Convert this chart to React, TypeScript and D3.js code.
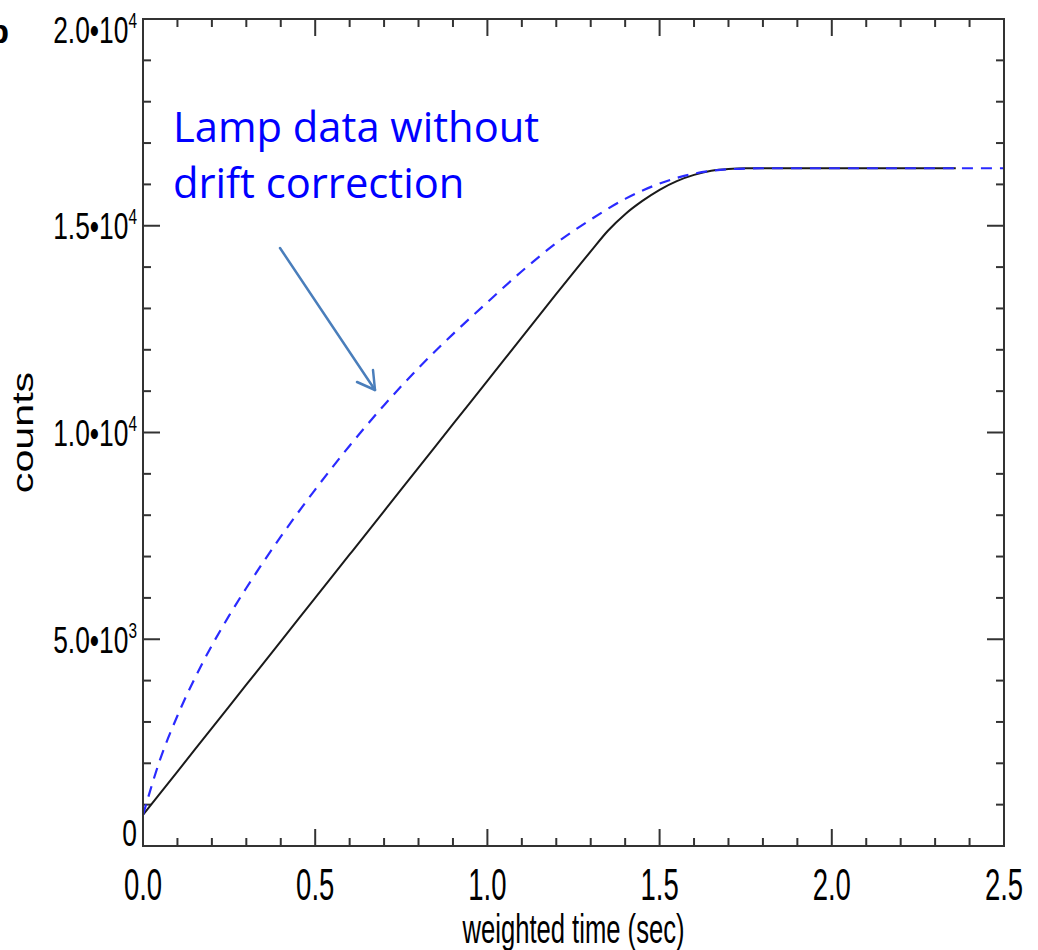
import React from "react";
import * as d3 from "d3";

// ---- data ----
const blackTime = [0, 0.1, 0.2, 0.3, 0.4, 0.5, 0.6, 0.7, 0.8, 0.9, 1.0, 1.1, 1.2, 1.3, 1.35, 1.4, 1.45, 1.5, 1.55, 1.6, 1.65, 1.7, 1.75, 1.8, 2.0, 2.2, 2.36];
const blackCounts = [750, 1800, 2850, 3900, 4950, 6000, 7050, 8100, 9150, 10200, 11250, 12300, 13350, 14380, 14880, 15280, 15600, 15870, 16080, 16230, 16330, 16375, 16390, 16390, 16390, 16390, 16390];

const blueTime = [0, 0.05, 0.1, 0.15, 0.2, 0.25, 0.3, 0.4, 0.5, 0.6, 0.7, 0.8, 0.9, 1.0, 1.1, 1.2, 1.3, 1.4, 1.5, 1.6, 1.7, 1.8, 2.0, 2.2, 2.5];
const blueCounts = [750, 2100, 3150, 4050, 4850, 5570, 6240, 7480, 8620, 9680, 10660, 11560, 12380, 13150, 13900, 14580, 15150, 15650, 16020, 16260, 16365, 16390, 16390, 16390, 16390];

const xMajor = [0, 0.5, 1.0, 1.5, 2.0, 2.5];
const xLabels = ["0.0", "0.5", "1.0", "1.5", "2.0", "2.5"];
const yMajor = [0, 5000, 10000, 15000, 20000];
const yMantissa = ["0", "5.0", "1.0", "1.5", "2.0"];
const yExponent = ["", "3", "4", "4", "4"];

const xTitle = "weighted time (sec)";
const yTitle = "counts";
const noteLines = ["Lamp data without", "drift correction"];

export default function App() {
  const L = 143, R = 1004, T = 19, B = 846;
  const x = d3.scaleLinear().domain([0, 2.5]).range([L, R]);
  const y = d3.scaleLinear().domain([0, 20000]).range([B, T]);

  const xMinor = d3.range(0, 2.5001, 0.1).filter((v) => Math.abs(v * 2 - Math.round(v * 2)) > 1e-6);
  const yMinor = d3.range(0, 20001, 1000).filter((v) => v % 5000 !== 0);

  const line = d3.line<number>().curve(d3.curveMonotoneX);
  const blackPath = line(blackTime.map((t, i) => [x(t), y(blackCounts[i])]) as any);
  const bluePath = line(blueTime.map((t, i) => [x(t), y(blueCounts[i])]) as any);

  const majLen = 17, minLen = 8;
  const axisColor = "#333";
  const tickFont = "'Liberation Sans', Arial, sans-serif";

  return (
    <svg width={1038} height={950} style={{ position: "absolute", left: 0, top: 0, background: "#fff" }}>
      <rect x={0} y={0} width={1038} height={950} fill="#fff" />
      {/* partial panel label */}
      <text x={9} y={43} textAnchor="end" fontFamily={tickFont} fontWeight="bold" fontSize={34} fill="#000">b</text>

      {/* ticks */}
      <g stroke={axisColor} strokeWidth={2}>
        {xMajor.map((v, i) => (
          <g key={"xm" + i}>
            <line x1={x(v)} x2={x(v)} y1={B} y2={B - majLen} />
            <line x1={x(v)} x2={x(v)} y1={T} y2={T + majLen} />
          </g>
        ))}
        {xMinor.map((v, i) => (
          <g key={"xn" + i}>
            <line x1={x(v)} x2={x(v)} y1={B} y2={B - minLen} />
            <line x1={x(v)} x2={x(v)} y1={T} y2={T + minLen} />
          </g>
        ))}
        {yMajor.map((v, i) => (
          <g key={"ym" + i}>
            <line x1={L} x2={L + majLen} y1={y(v)} y2={y(v)} />
            <line x1={R} x2={R - majLen} y1={y(v)} y2={y(v)} />
          </g>
        ))}
        {yMinor.map((v, i) => (
          <g key={"yn" + i}>
            <line x1={L} x2={L + minLen} y1={y(v)} y2={y(v)} />
            <line x1={R} x2={R - minLen} y1={y(v)} y2={y(v)} />
          </g>
        ))}
      </g>

      {/* curves */}
      <path d={blackPath || ""} fill="none" stroke="#1a1a1a" strokeWidth={2} />
      <path d={bluePath || ""} fill="none" stroke="#2a2aff" strokeWidth={2.2} strokeDasharray="11,8" />

      {/* frame */}
      <rect x={L} y={T} width={R - L} height={B - T} fill="none" stroke={axisColor} strokeWidth={2} />

      {/* x tick labels */}
      {xMajor.map((v, i) => (
        <text key={"xl" + i} transform={`translate(${x(v)},900) scale(0.615,1)`} textAnchor="middle"
          fontFamily={tickFont} fontSize={44.7} fill="#000">{xLabels[i]}</text>
      ))}
      {/* y tick labels */}
      {yMajor.map((v, i) => {
        const cy = Math.max(29, Math.min(832, y(v)));
        const base = cy + 13.5;
        const right = 137;
        return (
          <g key={"yl" + i} transform={`translate(${right},${base}) scale(0.7,1)`}>
            <text x={0} y={0} textAnchor="end" fontFamily={tickFont} fontSize={37.7} fill="#000">
              {yMantissa[i]}
              {yExponent[i] ? <tspan>•10</tspan> : null}
              {yExponent[i] ? <tspan fontSize={22} dy={-15}>{yExponent[i]}</tspan> : null}
            </text>
          </g>
        );
      })}

      {/* axis titles */}
      <text transform={`translate(573.5,943) scale(0.625,1)`} textAnchor="middle" fontFamily={tickFont}
        fontSize={41} fill="#000">{xTitle}</text>
      <text transform={`translate(33,432.5) rotate(-90) scale(1.42,1)`} textAnchor="middle" fontFamily={tickFont}
        fontSize={29} fill="#000">{yTitle}</text>

      {/* annotation */}
      {noteLines.map((s, i) => (
        <text key={"n" + i} x={173} y={142 + i * 56} fontFamily="'Open Sans', 'Noto Sans', sans-serif" fontSize={41.7}
          fill="#0000ff">{s}</text>
      ))}
      <g stroke="#4a7ebb" strokeWidth={2.5} fill="none" strokeLinecap="round" strokeLinejoin="round">
        <line x1={280} y1={248} x2={375} y2={390} />
        <polyline points="357,382 375,390 373,370" />
      </g>
    </svg>
  );
}
